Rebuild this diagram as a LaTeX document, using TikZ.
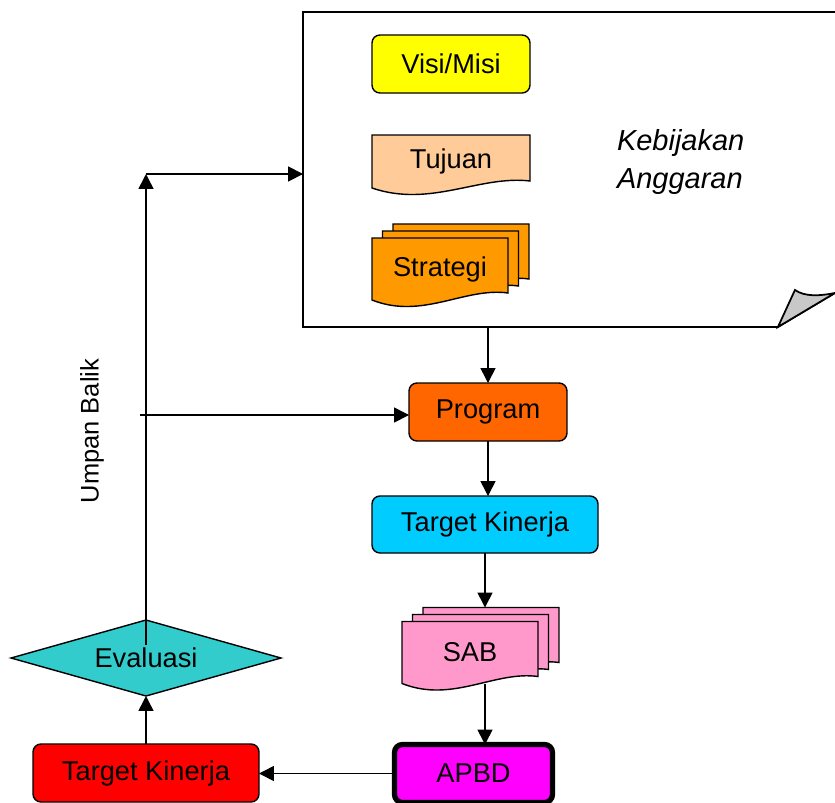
\documentclass[tikz,border=0pt]{standalone}
\usepackage{fontspec}
\setmainfont{Liberation Sans}
\usetikzlibrary{shapes.geometric, arrows.meta, positioning, calc, backgrounds}
\definecolor{visiyellow}{HTML}{FFFF00}
\definecolor{tujuanpeach}{HTML}{FFCC99}
\definecolor{strategiorange}{HTML}{FF9900}
\definecolor{programorange}{HTML}{FF6600}
\definecolor{targetcyan}{HTML}{00CCFF}
\definecolor{sabpink}{HTML}{FF99CC}
\definecolor{apbdmagenta}{HTML}{FF00FF}
\definecolor{targetred}{HTML}{FF0000}
\definecolor{evalteal}{HTML}{33CCCC}
\definecolor{foldgray}{HTML}{C8C8C8}

% wavy-bottom sheet behind a node: #1 node, #2 offset, #3 fill
\newcommand{\docsheet}[3]{%
  \draw[docline, fill=#3]
    ($(#1.north west)+#2$) -- ($(#1.north east)+#2$)
    -- ($(#1.south east)+(0,-7)+#2$)
    .. controls ($(#1.south west)!0.68!(#1.south east)+(0,-13)+#2$)
       and ($(#1.south west)!0.37!(#1.south east)+(0,20)+#2$)
    .. ($(#1.south west)+#2$) -- cycle;}

\begin{document}
\begin{tikzpicture}[
        x=0.02cm, y=-0.02cm,
        every node/.style={font=\fontsize{15.5}{18}\selectfont, inner sep=0pt, outer sep=0pt},
        docline/.style={draw=black, line width=0.8pt},
        roundbox/.style={
            rectangle,
            rounded corners=4.5pt,
            draw=black,
            line width=0.8pt,
            minimum width=3.16cm,
            minimum height=1.16cm
        },
        widebox/.style={roundbox, minimum width=4.52cm, minimum height=1.14cm},
        sheet/.style={
            rectangle,
            minimum width=2.72cm,
            minimum height=1.24cm
        },
        arrow/.style={
            -{Triangle[length=8.5pt, width=8.5pt]},
            line width=0.9pt
        }
    ]

    \useasboundingbox (0,0) rectangle (835,802);

    % Kebijakan page
    \node[minimum width=10.64cm, minimum height=6.3cm] (policy) at (569,169.5) {};
    \draw[line width=1pt] ($(policy.south east)+(-57,0)$) -- (policy.south west)
        -- (policy.north west) -- ($(policy.north east)+(3,0)$)
        -- ($(policy.south east)+(3,-34)$) -- ($(policy.south east)+(0,-34)$) -- cycle;
    \draw[line width=1pt, fill=foldgray] ($(policy.south east)+(-57,0)$)
        -- ($(policy.south east)+(-40,-37)$)
        .. controls ($(policy.south east)+(-30,-30)$) and ($(policy.south east)+(-15,-31)$)
        .. ($(policy.south east)+(0,-34)$) -- cycle;
    \node[font=\fontsize{16.5}{21.5}\selectfont\itshape, align=left, anchor=west] (policytext) at (617,162) {Kebijakan\\Anggaran};

    % Nodes
    \node[roundbox, fill=visiyellow] (visi) at (451,64) {Visi/Misi};
    \node[sheet, minimum width=3.16cm, minimum height=1.06cm] (tujuan) at (451,161.5) {Tujuan};
    \node[sheet] (strategi) at (440,269) {Strategi};
    \node[roundbox, fill=programorange] (program) at (488,412) {Program};
    \node[widebox, fill=targetcyan] (target) at (485,524.5) {Target Kinerja};
    \node[sheet] (sab) at (470,652.5) {SAB};
    \node[roundbox, fill=apbdmagenta, line width=3pt] (apbd) at (473.5,773.5) {APBD};
    \node[widebox, fill=targetred, minimum height=1.16cm] (hasil) at (146,773) {Target Kinerja};
    \node[diamond, draw=black, line width=0.8pt, fill=evalteal, aspect=3.5,
          minimum width=5.4cm, minimum height=1.52cm] (evaluasi) at (146,658) {Evaluasi};
    \node[rotate=90, font=\fontsize{14.5}{16}\selectfont] (umpan) at (92,431) {Umpan Balik};

    % Sheets
    \begin{scope}[on background layer]
        \docsheet{tujuan}{(0,0)}{tujuanpeach}
        \docsheet{strategi}{(21,-14)}{strategiorange}
        \docsheet{strategi}{(10.5,-7)}{strategiorange}
        \docsheet{strategi}{(0,0)}{strategiorange}
        \docsheet{sab}{(21,-14)}{sabpink}
        \docsheet{sab}{(10.5,-7)}{sabpink}
        \docsheet{sab}{(0,0)}{sabpink}
    \end{scope}

    % Feedback points
    \coordinate (evalstart) at (146,645);
    \coordinate (feedbacktop) at (146,174);
    \coordinate (feedbackmid) at (140,415);
    \coordinate (sabtop) at ($(sab.north)+(21,-14)$);

    % Arrows
    \draw[arrow] (program.north |- policy.south) -- (program.north);
    \draw[arrow] (program.south) -- (program.south |- target.north);
    \draw[arrow] (target.south) -- (target.south |- sabtop);
    \draw[arrow] (target.south |- sab.south) -- (target.south |- apbd.north);
    \draw[arrow] (apbd.west) -- (apbd.west -| hasil.east);
    \draw[arrow] (hasil.north) -- (evaluasi.south);
    \draw[arrow] (evalstart) -- (feedbacktop);
    \draw[arrow] (feedbacktop) -- (feedbacktop -| policy.west);
    \draw[arrow] (feedbackmid) -- (feedbackmid -| program.west);

\end{tikzpicture}
\end{document}
